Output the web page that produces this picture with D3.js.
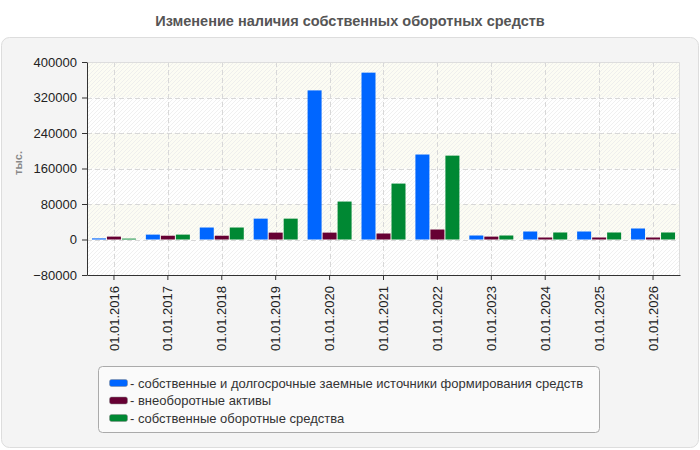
<!DOCTYPE html>
<html>
<head>
<meta charset="utf-8">
<script src="https://cdn.jsdelivr.net/npm/d3@7.9.0/dist/d3.min.js"></script>
<style>
  body { margin: 0; background: #fff; }
  svg { display: block; font-family: "Liberation Sans", Arial, sans-serif; }
</style>
</head>
<body>
<div id="chart"></div>
<script>
const dates = ["01.01.2016", "01.01.2017", "01.01.2018", "01.01.2019", "01.01.2020", "01.01.2021",
  "01.01.2022", "01.01.2023", "01.01.2024", "01.01.2025", "01.01.2026"];
const sourcesValues = [2500, 11000, 27000, 47000, 336000, 376000, 191500, 9000, 18000, 18000, 24800];
const fixedAssets = [6500, 8500, 8500, 15500, 15500, 13500, 22500, 6500, 4500, 4500, 4500];
const workingCapital = [2000, 11000, 27000, 47000, 85500, 126000, 189000, 9000, 15800, 15800, 15800];
const seriesNames = [
  "собственные и долгосрочные заемные источники формирования средств",
  "внеоборотные активы",
  "собственные оборотные средства"
];
const seriesColors = ["#0066ff", "#660033", "#008833"];
const yTicks = [-80000, 0, 80000, 160000, 240000, 320000, 400000];

const width = 700, height = 450;
const margin = { top: 62, right: 20, bottom: 175, left: 87 };
const plot = {
  left: margin.left,
  right: width - margin.right,
  top: margin.top,
  bottom: height - margin.bottom
};

const svg = d3.select("#chart").append("svg")
  .attr("width", width)
  .attr("height", height);

const defs = svg.append("defs");
const hatch = defs.append("pattern")
  .attr("id", "hatch")
  .attr("patternUnits", "userSpaceOnUse")
  .attr("width", 4).attr("height", 4);
hatch.append("path")
  .attr("d", "M-1,1 l2,-2 M0,4 l4,-4 M3,5 l2,-2")
  .attr("stroke", "#ececec")
  .attr("stroke-width", 1);

// panel
svg.append("rect")
  .attr("x", 1.5).attr("y", 37.5)
  .attr("width", 697).attr("height", 410)
  .attr("rx", 8)
  .attr("fill", "#f4f4f4")
  .attr("stroke", "#dddddd");

svg.append("text")
  .attr("x", width / 2).attr("y", 26)
  .attr("text-anchor", "middle")
  .attr("font-size", "14.5px")
  .attr("font-weight", "bold")
  .attr("fill", "#555")
  .text("Изменение наличия собственных оборотных средств");

const x = d3.scaleBand()
  .domain(dates)
  .range([plot.left, plot.right]);

const y = d3.scaleLinear()
  .domain([-80000, 400000])
  .range([plot.bottom, plot.top]);

// plot background
svg.append("rect")
  .attr("x", plot.left).attr("y", plot.top)
  .attr("width", plot.right - plot.left).attr("height", plot.bottom - plot.top)
  .attr("fill", "#ffffff");

const bands = [[0, 80000], [160000, 240000], [320000, 400000]];
svg.append("g").selectAll("rect")
  .data(bands)
  .join("rect")
  .attr("x", plot.left)
  .attr("width", plot.right - plot.left)
  .attr("y", d => y(d[1]))
  .attr("height", d => y(d[0]) - y(d[1]))
  .attr("fill", "#fcfcf3");

svg.append("rect")
  .attr("x", plot.left).attr("y", plot.top)
  .attr("width", plot.right - plot.left).attr("height", plot.bottom - plot.top)
  .attr("fill", "url(#hatch)")
  .attr("opacity", 0.8);

// gridlines
svg.append("g").selectAll("line")
  .data(yTicks.filter(d => d !== -80000 && d !== 400000))
  .join("line")
  .attr("x1", plot.left).attr("x2", plot.right)
  .attr("y1", d => Math.round(y(d)) + 0.5)
  .attr("y2", d => Math.round(y(d)) + 0.5)
  .attr("stroke", "#d8d8d8")
  .attr("stroke-dasharray", "5,3");

svg.append("g").selectAll("line")
  .data(dates)
  .join("line")
  .attr("x1", d => Math.round(x(d) + x.bandwidth() / 2) + 0.5)
  .attr("x2", d => Math.round(x(d) + x.bandwidth() / 2) + 0.5)
  .attr("y1", plot.top).attr("y2", plot.bottom)
  .attr("stroke", "#d8d8d8")
  .attr("stroke-dasharray", "5,3");

// top and right border
svg.append("path")
  .attr("d", `M${plot.left},${plot.top + 0.5}H${plot.right - 0.5}V${plot.bottom}`)
  .attr("fill", "none")
  .attr("stroke", "#dddddd");

// bars
const barW = 14, gap = 1;
const series = [sourcesValues, fixedAssets, workingCapital];
series.forEach((vals, si) => {
  svg.append("g").selectAll("rect")
    .data(vals.map((v, i) => ({ v, date: dates[i] })))
    .join("rect")
    .attr("x", d => x(d.date) + x.bandwidth() / 2 - (3 * barW + 2 * gap) / 2 + si * (barW + gap))
    .attr("width", barW)
    .attr("y", d => y(Math.max(0, d.v)))
    .attr("height", d => Math.abs(y(d.v) - y(0)))
    .attr("fill", seriesColors[si]);
});

// axes
const yAxis = svg.append("g")
  .attr("transform", `translate(${plot.left},0)`)
  .call(d3.axisLeft(y).tickValues(yTicks).tickSize(5).tickSizeOuter(0).tickFormat(d3.format("d")));
yAxis.select(".domain").attr("stroke", "#333");
yAxis.selectAll(".tick line").attr("stroke", "#333");
yAxis.selectAll("text")
  .attr("font-family", "Liberation Sans, Arial, sans-serif")
  .attr("font-size", "13px")
  .attr("fill", "#222")
  .attr("x", -10);

const xAxis = svg.append("g")
  .attr("transform", `translate(0,${plot.bottom})`)
  .call(d3.axisBottom(x).tickSize(5).tickSizeOuter(0));
xAxis.select(".domain").attr("stroke", "#333");
xAxis.selectAll(".tick line").attr("stroke", "#333");
xAxis.selectAll("text")
  .attr("font-family", "Liberation Sans, Arial, sans-serif")
  .attr("font-size", "13px")
  .attr("fill", "#222")
  .attr("transform", "rotate(-90)")
  .attr("x", -11)
  .attr("y", 0)
  .attr("dy", "0.35em")
  .attr("text-anchor", "end");

svg.append("text")
  .attr("transform", "rotate(-90)")
  .attr("x", -163).attr("y", 22)
  .attr("text-anchor", "middle")
  .attr("font-size", "11px")
  .attr("font-weight", "bold")
  .attr("fill", "#888")
  .text("тыс.");

// legend
const legend = svg.append("g");
legend.append("rect")
  .attr("x", 98.5).attr("y", 366.5)
  .attr("width", 501).attr("height", 66)
  .attr("rx", 4)
  .attr("fill", "#fafafa")
  .attr("stroke", "#aaaaaa");

const item = legend.selectAll("g.item")
  .data(seriesNames)
  .join("g")
  .attr("class", "item")
  .attr("transform", (d, i) => `translate(109,${383 + i * 17.5})`);
item.append("rect")
  .attr("x", 0.5).attr("y", -3.5)
  .attr("width", 18).attr("height", 7)
  .attr("rx", 2)
  .attr("fill", (d, i) => seriesColors[i])
  .attr("stroke", "#888")
  .attr("stroke-width", 0.5);
item.append("text")
  .attr("x", 21).attr("dy", "0.35em")
  .attr("font-size", "13px")
  .attr("fill", "#333")
  .text(d => "- " + d);
</script>
</body>
</html>
